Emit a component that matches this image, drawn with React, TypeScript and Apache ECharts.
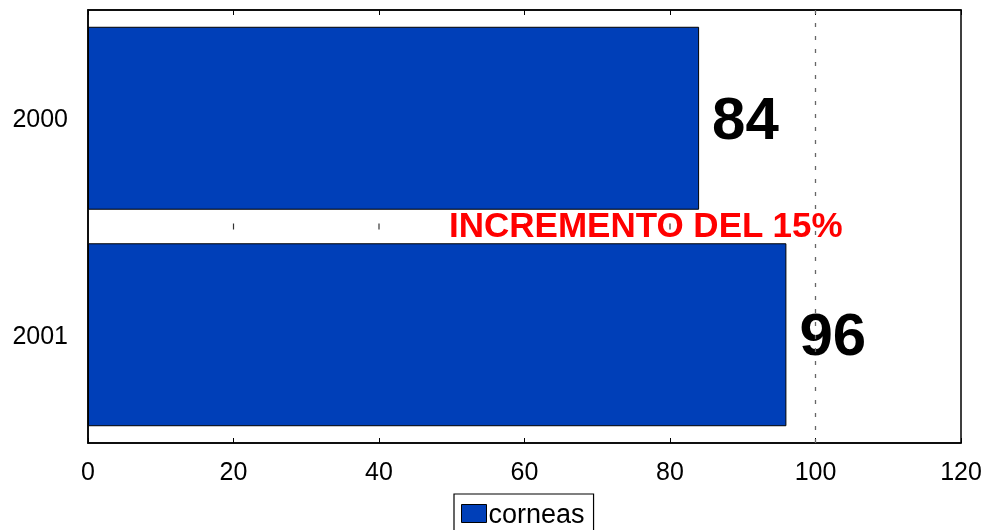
import React, { useEffect, useRef } from "react";
import * as echarts from "echarts";

const categories = ["2000", "2001"];
const values = [84, 96];
const seriesName = "corneas";
const refLineValue = 100;
const midTicks = [20, 40, 60, 80];
const annotation = "INCREMENTO DEL 15%";

export default function App() {
  const ref = useRef<HTMLDivElement>(null);
  useEffect(() => {
    const chart = echarts.init(ref.current!, undefined, { renderer: "svg" });
    const font = "Liberation Sans, Arial, sans-serif";
    chart.setOption({
      animation: false,
      textStyle: { fontFamily: font },
      grid: {
        left: 88, right: 24, top: 10, bottom: 87,
        show: true, borderColor: "#000", borderWidth: 1.5, backgroundColor: "#fff",
      },
      legend: {
        top: 494, left: 454,
        data: [{ name: seriesName, icon: "rect" }],
        borderColor: "#000", borderWidth: 1.2, borderRadius: 0,
        padding: [6, 9, 8, 7],
        itemWidth: 25, itemHeight: 18, itemGap: 4,
        textStyle: { fontSize: 27, color: "#000", fontFamily: font, padding: [0, 0, 0, -3] },
        itemStyle: { borderColor: "#000", borderWidth: 1 },
      },
      xAxis: [
        {
          type: "value", min: 0, max: 120, interval: 20,
          axisLine: { show: true, lineStyle: { color: "#000", width: 1.5 } },
          axisTick: { show: true, inside: true, length: 5, lineStyle: { color: "#000" } },
          axisLabel: { fontSize: 25, color: "#000", margin: 15, fontFamily: font },
          splitLine: { show: false },
        },
        {
          type: "value", min: 0, max: 120, interval: 20, position: "top",
          axisLine: { show: true, lineStyle: { color: "#000", width: 1.5 } },
          axisTick: { show: true, inside: true, length: 5, lineStyle: { color: "#000" } },
          axisLabel: { show: false },
          splitLine: { show: false },
        },
      ],
      yAxis: [
        {
          type: "category", data: categories, inverse: true,
          axisLine: { show: true, lineStyle: { color: "#000", width: 1.5 } },
          axisTick: { show: false },
          axisLabel: { fontSize: 25, color: "#000", margin: 20, fontFamily: font },
        },
        {
          type: "value", min: 0, max: 2, show: false,
        },
      ],
      series: [
        {
          name: seriesName,
          type: "bar",
          data: values,
          barWidth: "84.5%",
          z: 3,
          itemStyle: { color: "#003fb8", borderColor: "#000", borderWidth: 1 },
          label: {
            show: true, position: "right", distance: 13,
            fontSize: 60, fontWeight: "bold", color: "#000", fontFamily: font,
          },
        },
        {
          type: "scatter",
          yAxisIndex: 1,
          symbol: "rect",
          symbolSize: [1.2, 6],
          itemStyle: { color: "#000" },
          data: midTicks.map((v) => [v, 1]),
          silent: true,
          z: 1,
          markLine: {
            silent: true, symbol: "none", label: { show: false },
            lineStyle: { color: "#666", type: [4, 9], width: 1.3 },
            data: [{ xAxis: refLineValue }],
          },
        },
      ],
      graphic: [
        {
          type: "text", left: 449, top: 207, z: 100,
          style: {
            text: annotation, fill: "#ff0000", fontSize: 35, fontWeight: "bold",
            fontFamily: font,
          },
        },
      ],
    });
    return () => chart.dispose();
  }, []);
  return (
    <div
      ref={ref}
      style={{ position: "fixed", left: 0, top: 0, width: 985, height: 530 }}
    />
  );
}
